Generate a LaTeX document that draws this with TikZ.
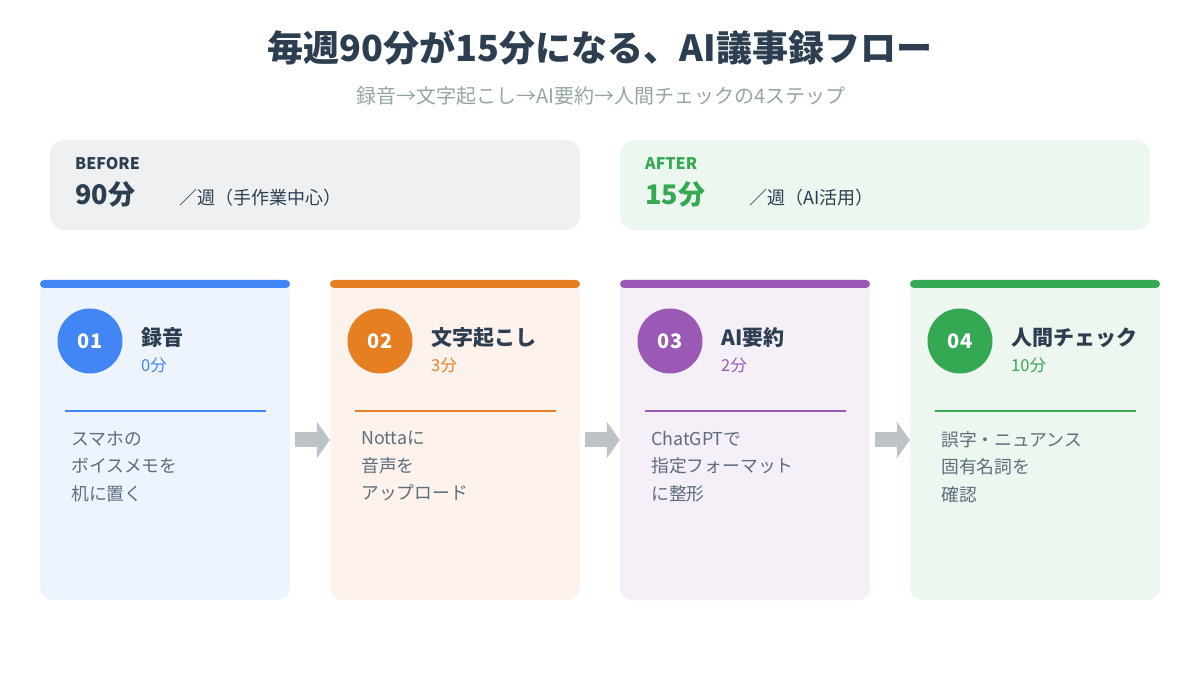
\documentclass[tikz,border=0pt]{standalone}
\usepackage{fontspec}
\setmainfont{Noto Sans CJK JP}
\usepackage{tikz}
\usetikzlibrary{positioning,arrows.meta}
\definecolor{ink}{HTML}{2C3E50}
\definecolor{subgray}{HTML}{95A5A6}
\definecolor{txtgray}{HTML}{5D6D7E}
\definecolor{arrgray}{HTML}{BDC3C7}
\definecolor{beforebg}{HTML}{EEF0F2}
\definecolor{afterbg}{HTML}{ECF7EF}
\definecolor{sBlue}{HTML}{4285F4}
\definecolor{sOrange}{HTML}{E67E22}
\definecolor{sPurple}{HTML}{9B59B6}
\definecolor{sGreen}{HTML}{34A853}
\definecolor{bgBlue}{HTML}{EDF4FE}
\definecolor{bgOrange}{HTML}{FDF3EC}
\definecolor{bgPurple}{HTML}{F5EFF8}
\definecolor{bgGreen}{HTML}{EDF7EF}
\tikzset{
  panel/.style={rounded corners=14pt, minimum width=530pt, minimum height=90pt, inner sep=0pt},
  card/.style={rounded corners=12pt, minimum width=250pt, minimum height=320pt, inner sep=0pt},
  topbar/.style={rounded corners=4pt, minimum width=250pt, minimum height=8pt, inner sep=0pt},
  numdot/.style={circle, minimum size=65pt, inner sep=0pt, text=white, font=\bfseries\fontsize{20}{24}\selectfont},
  ttl/.style={anchor=west, inner sep=0pt, text=ink, font=\bfseries\fontsize{21}{24}\selectfont},
  tm/.style={anchor=west, inner sep=0pt, font=\fontsize{16.5}{20}\selectfont},
  desc/.style={anchor=north west, inner sep=0pt, align=left, text=txtgray, font=\fontsize{17.8}{27.5}\selectfont},
  sep/.style={line width=2pt},
  flow/.style={draw=arrgray, line width=15pt, -{Triangle[length=13pt,width=36pt]}, arrgray}
}
\begin{document}
\begin{tikzpicture}[x=1pt, y=-1pt]
  \useasboundingbox (0,0) rectangle (1200,700);
  % title
  \node[text=ink, font=\bfseries\fontsize{36}{40}\selectfont] (title) at (600,48) {毎週90分が15分になる、AI議事録フロー};
  \node[text=subgray, font=\fontsize{20}{23}\selectfont] (subtitle) at (601,96) {録音→文字起こし→AI要約→人間チェックの4ステップ};
  % before / after
  \node[panel, fill=beforebg] (before) at (315,185) {};
  \node[anchor=west, inner sep=0pt, text=ink, font=\bfseries\fontsize{16}{18}\selectfont] (bflbl) at (75,164) {BEFORE};
  \node[anchor=west, inner sep=0pt, text=ink, font=\bfseries\fontsize{27}{30}\selectfont] (bfval) at (75,194) {90分};
  \node[anchor=west, inner sep=0pt, text=ink, font=\fontsize{18}{20}\selectfont] (bfnote) at (179,198) {／週（手作業中心）};
  \node[panel, fill=afterbg] (after) at (885,185) {};
  \node[anchor=west, inner sep=0pt, text=sGreen, font=\bfseries\fontsize{16}{18}\selectfont] (aflbl) at (645,164) {AFTER};
  \node[anchor=west, inner sep=0pt, text=sGreen, font=\bfseries\fontsize{27}{30}\selectfont] (afval) at (645,194) {15分};
  \node[anchor=west, inner sep=0pt, text=ink, font=\fontsize{18}{20}\selectfont] (afnote) at (749,198) {／週（AI活用）};
  % step cards
  \foreach \i/\x/\col/\bg/\name/\time/\da/\db/\dc in {
      1/40/sBlue/bgBlue/録音/0分/スマホの/ボイスメモを/机に置く,
      2/330/sOrange/bgOrange/文字起こし/3分/Nottaに/音声を/アップロード,
      3/620/sPurple/bgPurple/AI要約/2分/ChatGPTで/指定フォーマット/に整形,
      4/910/sGreen/bgGreen/人間チェック/10分/誤字・ニュアンス/固有名詞を/確認}{
    \node[card, fill=\bg] (c\i) at (\x+125,440) {};
    \node[topbar, fill=\col, anchor=north] (b\i) at (c\i.north) {};
    \node[numdot, fill=\col] (n\i) at (\x+50,341) {0\i};
    \node[ttl] (t\i) at (\x+101,338) {\name};
    \node[tm, text=\col] (m\i) at (\x+101,365) {\time};
    \draw[sep, draw=\col] (\x+25,411) -- (\x+226,411);
    \node[desc] (d\i) at (\x+31,431) {\da\\\db\\\dc};
  }
  % arrows between cards
  \foreach \i/\j in {1/2,2/3,3/4}{
    \draw[flow] ([xshift=5pt]c\i.east) -- (c\j.west);
  }
\end{tikzpicture}
\end{document}
